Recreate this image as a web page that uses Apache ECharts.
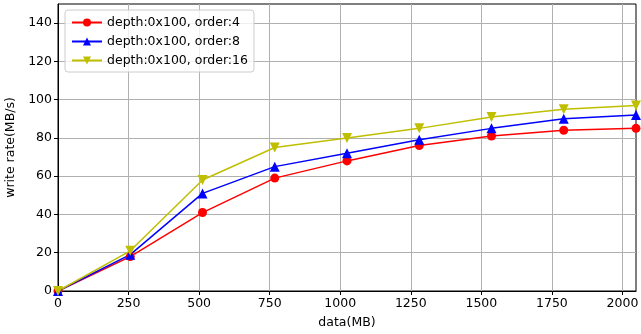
<!DOCTYPE html>
<html><head><meta charset="utf-8">
<script src="https://cdn.jsdelivr.net/npm/echarts@6/dist/echarts.min.js"></script>
<style>html,body{margin:0;padding:0;background:#fff}#c{width:641px;height:334px}</style>
</head><body><div id="c"></div>
<script>
const xData = [0, 256, 512, 768, 1024, 1280, 1536, 1792, 2048];
const order4 = [0, 18, 41, 59, 68, 76, 81, 84, 85];
const order8 = [0, 19, 51, 65, 72, 79, 85, 90, 92];
const order16 = [0, 21, 58, 75, 80, 85, 91, 95, 97];
const xTicks = [0, 250, 500, 750, 1000, 1250, 1500, 1750, 2000];
const yTicks = [0, 20, 40, 60, 80, 100, 120, 140];
const names = ['depth:0x100, order:4', 'depth:0x100, order:8', 'depth:0x100, order:16'];
const font = 'DejaVu Sans';
const fs = 12.5;
const chart = echarts.init(document.getElementById('c'));
function mk(name, vals, color, symbol, size) {
  return {
    name, type: 'line', data: xData.map((x, i) => [x, vals[i]]),
    symbol, symbolSize: size, showAllSymbol: true,
    lineStyle: { color, width: 1.5 }, itemStyle: { color },
    emphasis: { disabled: true }, animation: false, clip: false
  };
}
chart.setOption({
  animation: false,
  grid: { left: 58, right: 5, top: 4, bottom: 43, outerBoundsMode: 'none', containLabel: false,
          show: true, borderColor: '#000', borderWidth: 1, backgroundColor: 'transparent' },
  legend: {
    orient: 'vertical', left: 65, top: 10, itemWidth: 30, itemHeight: 10, itemGap: 6,
    backgroundColor: 'rgba(255,255,255,0.8)', borderColor: '#cccccc', borderWidth: 1, borderRadius: 3,
    padding: [6, 6, 5, 6],
    textStyle: { fontFamily: font, fontSize: fs, color: '#000' },
    data: names
  },
  xAxis: {
    type: 'value', min: 0, max: 2048, interval: 250,
    name: 'data(MB)', nameLocation: 'middle', nameGap: 25,
    nameTextStyle: { fontFamily: font, fontSize: fs, color: '#000' },
    axisLine: { show: true, lineStyle: { color: '#000', width: 1 } },
    axisTick: { show: true, length: 4, lineStyle: { color: '#000' }, customValues: xTicks },
    axisLabel: { fontFamily: font, fontSize: fs, color: '#000', margin: 6, customValues: xTicks,
                 formatter: v => String(v) },
    splitLine: { show: true, lineStyle: { color: '#b0b0b0', width: 1 } }
  },
  yAxis: {
    type: 'value', min: 0, max: 150, interval: 20,
    name: 'write rate(MB/s)', nameLocation: 'middle', nameGap: 32,
    nameTextStyle: { fontFamily: font, fontSize: fs, color: '#000' },
    axisLine: { show: true, lineStyle: { color: '#000', width: 1 } },
    axisTick: { show: true, length: 4, lineStyle: { color: '#000' }, customValues: yTicks },
    axisLabel: { fontFamily: font, fontSize: fs, color: '#000', margin: 6, customValues: yTicks,
                 formatter: v => String(v) },
    splitLine: { show: true, lineStyle: { color: '#b0b0b0', width: 1 } }
  },
  series: [
    mk(names[0], order4, '#ff0000', 'circle', 9),
    mk(names[1], order8, '#0000ff', 'triangle', 10),
    mk(names[2], order16, '#bfbf00', 'path://M0,0 L10,0 L5,9 Z', 10)
  ]
});
</script></body></html>
